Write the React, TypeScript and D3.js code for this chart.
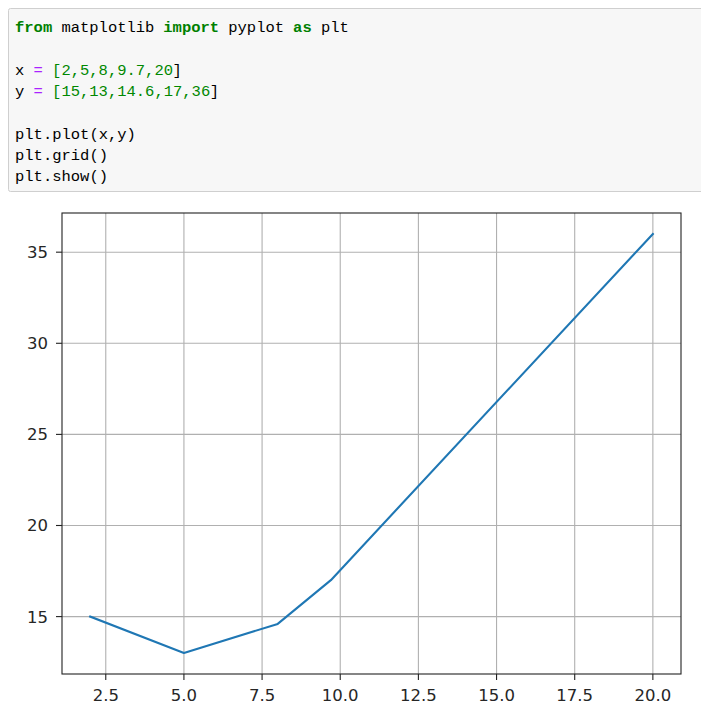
import React from "react";
import * as d3 from "d3";

const xValues = [2, 5, 8, 9.7, 20];
const yValues = [15, 13, 14.6, 17, 36];
const xTicks = [2.5, 5, 7.5, 10, 12.5, 15, 17.5, 20];
const yTicks = [15, 20, 25, 30, 35];

// code cell tokens: [text, kind]
type Tok = [string, string];
const codeLines: Tok[][] = [
  [["from", "kw"], [" matplotlib ", "txt"], ["import", "kw"], [" pyplot ", "txt"], ["as", "kw"], [" plt", "txt"]],
  [],
  [["x ", "txt"], ["=", "op"], [" ", "txt"], ["[2,5,8,9.7,20", "num"], ["]", "txt"]],
  [["y ", "txt"], ["=", "op"], [" ", "txt"], ["[15,13,14.6,17,36", "num"], ["]", "txt"]],
  [],
  [["plt.plot(x,y)", "txt"]],
  [["plt.grid()", "txt"]],
  [["plt.show()", "txt"]],
];

const tokColor: Record<string, string> = { kw: "#008000", txt: "#000000", op: "#aa22ff", num: "#008800" };

const W = 701;
const H = 711;
const plot = { left: 62, right: 681, top: 213, bottom: 674 };

export default function App() {
  const xMin = d3.min(xValues)!, xMax = d3.max(xValues)!;
  const yMin = d3.min(yValues)!, yMax = d3.max(yValues)!;
  const xPad = (xMax - xMin) * 0.05;
  const yPad = (yMax - yMin) * 0.05;

  const x = d3.scaleLinear().domain([xMin - xPad, xMax + xPad]).range([plot.left, plot.right]);
  const y = d3.scaleLinear().domain([yMin - yPad, yMax + yPad]).range([plot.bottom, plot.top]);

  const line = d3.line<number>()
    .x((_, i) => x(xValues[i]))
    .y((d) => y(d));

  const charW = 9.27;
  const codeX = 15;
  const lineH = 21.3;
  const firstBase = 32;

  return (
    <svg width={W} height={H} style={{ position: "absolute", left: 0, top: 0, background: "#fff" }}>
      {/* code cell */}
      <rect x={8.5} y={8.5} width={W + 10} height={183} rx={2} fill="#f7f7f7" stroke="#cfcfcf" strokeWidth={1} />
      {codeLines.map((toks, li) => {
        let col = 0;
        return toks.map((t, ti) => {
          const el = (
            <text
              key={`${li}-${ti}`}
              x={codeX + col * charW}
              y={firstBase + li * lineH}
              fontFamily="'Liberation Mono', 'DejaVu Sans Mono', monospace"
              fontSize={15.5}
              fontWeight={t[1] === "kw" ? "bold" : "normal"}
              fill={tokColor[t[1]]}
              style={{ whiteSpace: "pre" }}
            >
              {t[0]}
            </text>
          );
          col += t[0].length;
          return el;
        });
      })}

      {/* grid */}
      {xTicks.map((t) => (
        <line key={`gx${t}`} x1={x(t)} x2={x(t)} y1={plot.top} y2={plot.bottom} stroke="#b0b0b0" strokeWidth={1.1} />
      ))}
      {yTicks.map((t) => (
        <line key={`gy${t}`} x1={plot.left} x2={plot.right} y1={y(t)} y2={y(t)} stroke="#b0b0b0" strokeWidth={1.1} />
      ))}

      {/* data line */}
      <path d={line(yValues) ?? ""} fill="none" stroke="#1f77b4" strokeWidth={2.1} strokeLinejoin="round" strokeLinecap="square" />

      {/* spines */}
      <rect x={plot.left} y={plot.top} width={plot.right - plot.left} height={plot.bottom - plot.top} fill="none" stroke="#222" strokeWidth={1.1} />

      {/* ticks */}
      {xTicks.map((t) => (
        <g key={`tx${t}`}>
          <line x1={x(t)} x2={x(t)} y1={plot.bottom} y2={plot.bottom + 6} stroke="#222" strokeWidth={1.1} />
          <text x={x(t)} y={701} textAnchor="middle" fontFamily="'DejaVu Sans', sans-serif" fontSize={16.5} fill="#262626">
            {t.toFixed(1)}
          </text>
        </g>
      ))}
      {yTicks.map((t) => (
        <g key={`ty${t}`}>
          <line x1={plot.left - 6} x2={plot.left} y1={y(t)} y2={y(t)} stroke="#222" strokeWidth={1.1} />
          <text x={48} y={y(t)} dy="0.36em" textAnchor="end" fontFamily="'DejaVu Sans', sans-serif" fontSize={16.5} fill="#262626">
            {t}
          </text>
        </g>
      ))}
    </svg>
  );
}
